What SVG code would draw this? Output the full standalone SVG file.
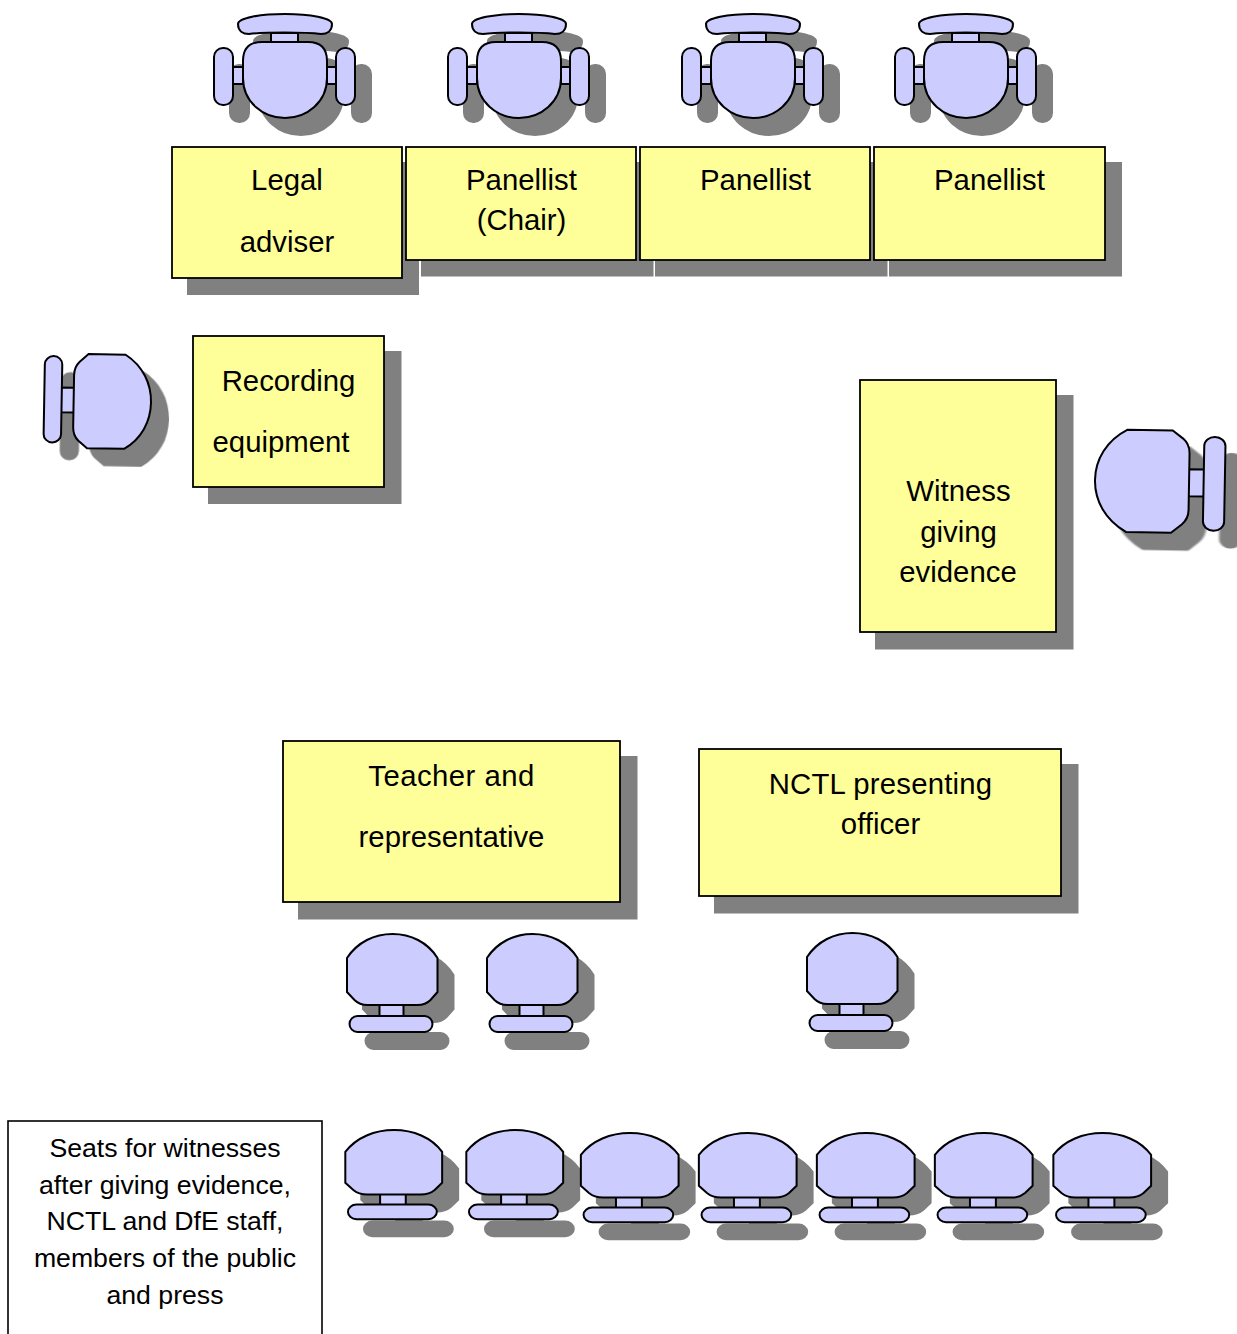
<svg xmlns="http://www.w3.org/2000/svg" xmlns:xlink="http://www.w3.org/1999/xlink" width="1237" height="1334" viewBox="0 0 1237 1334">
<style>
text{font-family:"Liberation Sans",Arial,sans-serif;font-size:29.33px;fill:#000;text-anchor:middle}
.small{font-size:26.67px}
.wide{letter-spacing:.45px}
.wider{letter-spacing:.2px}
.box{fill:#ffff99;stroke:#000;stroke-width:1.8}
.note{fill:#fff;stroke:#000;stroke-width:1.6}
.rs{fill:#808080;stroke:none}
.sh{fill:#808080;stroke:#808080;filter:url(#soft)}
.ch{fill:#ccccff;stroke:#000}
</style>
<defs>
<filter id="soft" x="-10%" y="-10%" width="120%" height="120%"><feGaussianBlur stdDeviation="0.7"/></filter>
<g id="armchair" stroke-width="2">
<rect x="-52" y="53" width="10" height="17" vector-effect="non-scaling-stroke"/>
<rect x="42" y="53" width="9" height="17" vector-effect="non-scaling-stroke"/>
<rect x="-14" y="19" width="27" height="10" vector-effect="non-scaling-stroke"/>
<path d="M-47 10C-47 4-25 0 0 0C25 0 47 4 47 10C47 17 42 20 36 20C20 18-20 18-36 20C-42 20-47 17-47 10Z" vector-effect="non-scaling-stroke"/>
<rect x="-71" y="34" width="19" height="57" rx="9" vector-effect="non-scaling-stroke"/>
<rect x="51" y="34" width="19" height="57" rx="9" vector-effect="non-scaling-stroke"/>
<path d="M-42 47Q-42 28-23 28L23 28Q42 28 42 47L42 64C42 88 22 104 0 104C-22 104-42 88-42 64Z" vector-effect="non-scaling-stroke"/>
</g>
<g id="chair" stroke-width="2">
<rect x="-13" y="70" width="24" height="13" vector-effect="non-scaling-stroke"/>
<rect x="-43" y="82" width="83" height="16" rx="8" vector-effect="non-scaling-stroke"/>
<path d="M-45.500 24C-35 8-18 0 0 0C18 0 35 8 45 24L45 58L38 66Q33 71 25 71L-25 71Q-33 71-38 66L-45.500 58Z" vector-effect="non-scaling-stroke"/>
</g>
</defs>

<g id="chair-top-1"><use href="#armchair" class="sh" transform="translate(301,31)"/><use href="#armchair" class="ch" transform="translate(285,14)"/></g>
<g id="chair-top-2"><use href="#armchair" class="sh" transform="translate(535,31)"/><use href="#armchair" class="ch" transform="translate(519,14)"/></g>
<g id="chair-top-3"><use href="#armchair" class="sh" transform="translate(769,31)"/><use href="#armchair" class="ch" transform="translate(753,14)"/></g>
<g id="chair-top-4"><use href="#armchair" class="sh" transform="translate(982,31)"/><use href="#armchair" class="ch" transform="translate(966,14)"/></g>

<g id="legal-adviser"><rect class="rs" x="187" y="162" width="232" height="133"/><rect class="box" x="172" y="147" width="230" height="131"/><text x="287" y="190">Legal</text><text x="287" y="252">adviser</text></g>
<g id="panellist-chair"><rect class="rs" x="421" y="162" width="232.500" height="114.500"/><rect class="box" x="406" y="147" width="230" height="113"/><text x="521.500" y="190">Panellist</text><text x="521.500" y="230">(Chair)</text></g>
<g id="panellist-2"><rect class="rs" x="655" y="162" width="232.500" height="114.500"/><rect class="box" x="640" y="147" width="230" height="113"/><text x="755.500" y="190">Panellist</text></g>
<g id="panellist-3"><rect class="rs" x="889" y="162" width="233" height="114.500"/><rect class="box" x="874" y="147" width="231" height="113"/><text x="989.500" y="190">Panellist</text></g>

<g id="chair-left"><use href="#chair" class="sh" transform="translate(168,419.500) rotate(91) scale(1.04,1.09)"/><use href="#chair" class="ch" transform="translate(151,402.500) rotate(91) scale(1.04,1.09)"/></g>
<g id="recording-equipment"><rect class="rs" x="208" y="351" width="193.500" height="153"/><rect class="box" x="193" y="336" width="191" height="151"/><text x="288.500" y="391">Recording</text><text x="281" y="452">equipment</text></g>

<g id="witness"><rect class="rs" x="875" y="395" width="198.500" height="254.500"/><rect class="box" x="860" y="380" width="196" height="252"/><text x="958.500" y="501">Witness</text><text x="958.500" y="542">giving</text><text x="958" y="582">evidence</text></g>
<g id="chair-right"><use href="#chair" class="sh" transform="translate(1112,497) rotate(-89) scale(1.13,1.325)"/><use href="#chair" class="ch" transform="translate(1095,480) rotate(-89) scale(1.13,1.325)"/></g>

<g id="teacher"><rect class="rs" x="298" y="756" width="339.500" height="163.500"/><rect class="box" x="283" y="741" width="337" height="161"/><text class="wide" x="451.500" y="786">Teacher and</text><text x="451.500" y="847">representative</text></g>
<g id="nctl-officer"><rect class="rs" x="714" y="764" width="364.500" height="149.500"/><rect class="box" x="699" y="749" width="362" height="147"/><text class="wider" x="880.500" y="794">NCTL presenting</text><text x="880.500" y="834">officer</text></g>

<g id="chair-teacher-1"><use href="#chair" class="sh" transform="translate(408.500,951)"/><use href="#chair" class="ch" transform="translate(392.500,934)"/></g>
<g id="chair-teacher-2"><use href="#chair" class="sh" transform="translate(548.500,951)"/><use href="#chair" class="ch" transform="translate(532.500,934)"/></g>
<g id="chair-nctl"><use href="#chair" class="sh" transform="translate(868.500,950)"/><use href="#chair" class="ch" transform="translate(852.500,933)"/></g>

<g id="seats-note"><rect class="note" x="8" y="1121" width="314" height="220"/><text class="small" x="165" y="1157">Seats for witnesses</text><text class="small" x="165" y="1194">after giving evidence,</text><text class="small" x="165" y="1230">NCTL and DfE staff,</text><text class="small" x="165" y="1267">members of the public</text><text class="small" x="165" y="1304">and press</text></g>

<g id="seat-1"><use href="#chair" class="sh" transform="translate(410,1147) scale(1.07,0.91)"/><use href="#chair" class="ch" transform="translate(394,1130) scale(1.07,0.91)"/></g>
<g id="seat-2"><use href="#chair" class="sh" transform="translate(531,1147) scale(1.07,0.91)"/><use href="#chair" class="ch" transform="translate(515,1130) scale(1.07,0.91)"/></g>
<g id="seat-3"><use href="#chair" class="sh" transform="translate(646,1150) scale(1.08,0.91)"/><use href="#chair" class="ch" transform="translate(630,1133) scale(1.08,0.91)"/></g>
<g id="seat-4"><use href="#chair" class="sh" transform="translate(764,1150) scale(1.08,0.91)"/><use href="#chair" class="ch" transform="translate(748,1133) scale(1.08,0.91)"/></g>
<g id="seat-5"><use href="#chair" class="sh" transform="translate(882,1150) scale(1.08,0.91)"/><use href="#chair" class="ch" transform="translate(866,1133) scale(1.08,0.91)"/></g>
<g id="seat-6"><use href="#chair" class="sh" transform="translate(1000,1150) scale(1.08,0.91)"/><use href="#chair" class="ch" transform="translate(984,1133) scale(1.08,0.91)"/></g>
<g id="seat-7"><use href="#chair" class="sh" transform="translate(1118.500,1150) scale(1.08,0.91)"/><use href="#chair" class="ch" transform="translate(1102.500,1133) scale(1.08,0.91)"/></g>
<g id="connectors"></g>
</svg>
